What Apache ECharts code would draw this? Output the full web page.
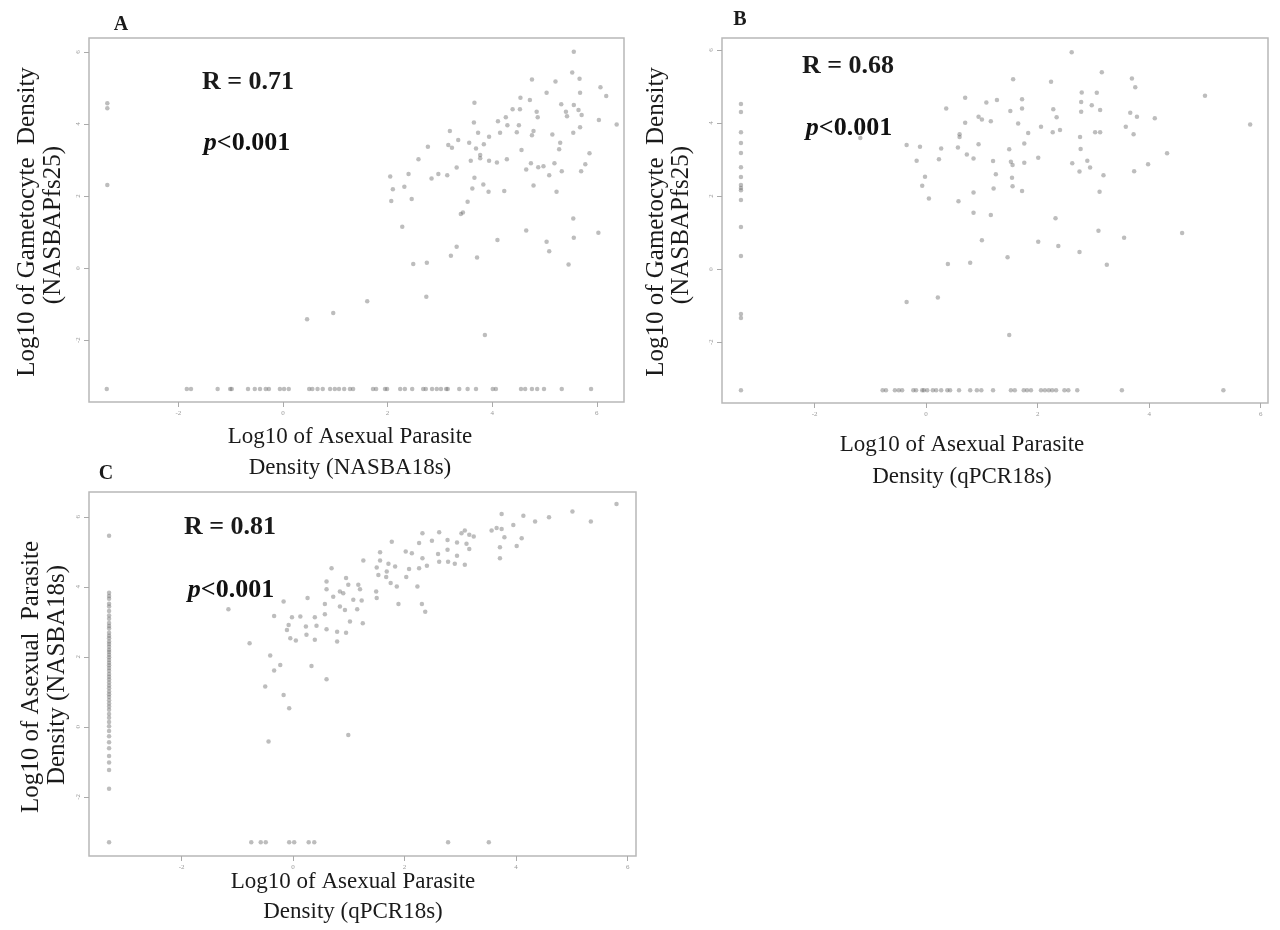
<!DOCTYPE html>
<html>
<head>
<meta charset="utf-8">
<script src="https://cdn.jsdelivr.net/npm/echarts@6/dist/echarts.min.js"></script>
<style>
html,body{margin:0;padding:0;background:#fff;}
#chart{width:1280px;height:930px;}
</style>
</head>
<body>
<div id="chart"></div>
<script>
// ---------- DATA ----------
const tickValues = [-2, 0, 2, 4, 6];
const tickLabels = ['-2', '0', '2', '4', '6'];

// Panel A: NASBA18s (x) vs NASBAPfs25 (y)
const aND = -3.36;
const aPoints = [[5.56,6.01],[5.53,5.43],[5.67,5.26],[4.76,5.24],[5.21,5.18],[6.07,5.02],[5.04,4.87],[5.68,4.87],[6.18,4.78],[4.54,4.73],[4.72,4.67],[3.66,4.59],[5.32,4.55],[5.56,4.53],[4.39,4.41],[4.53,4.41],[4.85,4.34],[5.41,4.34],[5.43,4.22],[5.65,4.39],[5.71,4.25],[4.26,4.19],[4.87,4.19],[4.11,4.08],[6.04,4.11],[3.65,4.04],[6.38,3.99],[4.51,3.97],[4.29,3.97],[5.68,3.91],[3.19,3.81],[3.73,3.76],[4.15,3.76],[4.47,3.77],[4.79,3.81],[4.76,3.69],[5.15,3.71],[5.55,3.76],[3.94,3.65],[3.35,3.56],[3.56,3.48],[3.84,3.44],[5.30,3.48],[3.16,3.42],[2.77,3.37],[3.23,3.34],[3.69,3.32],[5.28,3.30],[4.56,3.28],[3.77,3.14],[5.86,3.19],[2.59,3.02],[3.59,2.98],[3.77,3.05],[3.94,2.98],[4.09,2.93],[4.28,3.02],[5.19,2.91],[4.74,2.91],[5.78,2.88],[4.98,2.83],[4.88,2.80],[4.65,2.74],[5.33,2.69],[3.32,2.79],[5.70,2.69],[2.40,2.61],[2.05,2.54],[2.97,2.61],[2.84,2.49],[3.14,2.58],[3.66,2.51],[5.09,2.58],[2.32,2.26],[2.10,2.19],[3.83,2.32],[3.62,2.21],[4.79,2.29],[3.93,2.12],[4.23,2.14],[5.23,2.12],[2.07,1.86],[2.46,1.92],[3.53,1.84],[3.40,1.50],[3.44,1.54],[5.55,1.38],[2.28,1.15],[4.65,1.04],[6.03,0.98],[4.10,0.78],[5.56,0.84],[5.04,0.73],[3.32,0.59],[5.09,0.47],[3.21,0.34],[3.71,0.29],[2.49,0.11],[2.75,0.15],[5.46,0.10],[2.74,-0.80],[3.86,-1.86],[0.46,-1.42],[0.96,-1.25],[1.61,-0.92]];
const aZeroColY = [4.58, 4.44, 2.31];
const aZeroRowX = [-3.37,-1.84,-1.76,-1.25,-1.01,-0.98,-0.67,-0.54,-0.44,-0.33,-0.27,-0.06,0.02,0.11,0.50,0.56,0.66,0.76,0.90,0.99,1.07,1.17,1.28,1.34,1.72,1.78,1.95,1.99,2.24,2.33,2.47,2.68,2.73,2.85,2.94,3.02,3.12,3.15,3.37,3.53,3.69,4.01,4.07,4.55,4.63,4.76,4.86,4.99,5.33,5.89];

// Panel B: qPCR18s (x) vs NASBAPfs25 (y)
const bND = -3.32;
const bPoints = [[2.61,5.94],[3.15,5.39],[1.56,5.20],[2.24,5.13],[3.69,5.22],[3.75,4.98],[5.00,4.75],[0.70,4.69],[1.08,4.56],[1.27,4.63],[1.72,4.65],[2.79,4.84],[3.06,4.83],[2.78,4.58],[2.97,4.49],[0.36,4.40],[1.51,4.33],[1.72,4.40],[2.28,4.38],[2.78,4.31],[3.12,4.36],[3.66,4.28],[3.78,4.17],[4.10,4.13],[0.94,4.17],[1.00,4.10],[2.34,4.16],[0.70,4.01],[1.16,4.05],[1.65,3.99],[2.06,3.90],[2.27,3.75],[2.40,3.81],[1.83,3.73],[3.03,3.75],[3.12,3.75],[3.58,3.90],[3.72,3.69],[2.76,3.62],[5.81,3.96],[0.60,3.69],[0.60,3.62],[-0.35,3.40],[-0.11,3.35],[0.27,3.30],[0.57,3.33],[0.94,3.42],[1.76,3.44],[1.49,3.28],[2.77,3.29],[-0.17,2.97],[0.23,3.01],[0.73,3.14],[0.85,3.03],[1.20,2.96],[1.52,2.94],[1.55,2.85],[1.76,2.91],[2.01,3.05],[2.62,2.90],[2.89,2.97],[2.94,2.78],[2.75,2.67],[3.18,2.57],[3.73,2.68],[3.98,2.87],[4.32,3.17],[-0.02,2.53],[-0.07,2.28],[1.25,2.60],[1.54,2.50],[1.21,2.21],[1.55,2.27],[1.72,2.14],[0.85,2.10],[0.05,1.93],[0.58,1.86],[3.11,2.12],[0.85,1.54],[1.16,1.48],[2.32,1.39],[3.09,1.05],[4.59,0.99],[1.00,0.79],[2.01,0.75],[2.37,0.63],[3.55,0.86],[2.75,0.47],[0.39,0.14],[0.79,0.17],[1.46,0.32],[3.24,0.12],[-0.35,-0.90],[0.21,-0.78],[1.49,-1.81],[-1.18,3.59]];
const bZeroColY = [4.52,4.30,3.75,3.45,3.18,2.79,2.52,2.30,2.22,2.16,1.89,1.15,0.36,-1.23,-1.34];
const bZeroRowX = [-3.32,-0.78,-0.72,-0.56,-0.49,-0.43,-0.23,-0.18,-0.07,-0.04,0.02,0.12,0.18,0.27,0.38,0.43,0.59,0.79,0.91,0.99,1.20,1.52,1.59,1.75,1.81,1.88,2.06,2.13,2.20,2.26,2.33,2.48,2.55,2.71,3.51,5.33];

// Panel C: qPCR18s (x) vs NASBA18s (y)
const cND = -3.30;
const cPoints = [[5.80,6.37],[3.74,6.08],[4.13,6.03],[4.34,5.87],[4.59,5.99],[5.01,6.15],[5.34,5.87],[3.95,5.77],[3.56,5.61],[3.65,5.68],[3.74,5.65],[3.79,5.42],[4.10,5.39],[4.01,5.17],[3.71,5.13],[3.71,4.82],[3.08,5.61],[3.16,5.49],[3.02,5.53],[3.24,5.44],[2.62,5.56],[2.32,5.53],[2.49,5.32],[2.77,5.34],[2.94,5.27],[3.11,5.23],[3.16,5.08],[2.77,5.06],[2.60,4.94],[2.94,4.89],[2.78,4.72],[2.62,4.72],[2.90,4.66],[3.08,4.63],[2.26,5.25],[1.77,5.29],[1.56,4.99],[2.02,5.01],[2.13,4.96],[2.32,4.82],[2.40,4.60],[2.26,4.53],[1.56,4.75],[1.71,4.66],[1.83,4.58],[2.08,4.51],[1.26,4.75],[1.50,4.55],[1.68,4.44],[1.53,4.34],[1.67,4.28],[1.75,4.11],[1.86,4.01],[2.03,4.28],[2.23,4.01],[0.69,4.53],[0.60,4.15],[0.60,3.93],[0.95,4.25],[0.99,4.06],[1.17,4.06],[1.20,3.93],[0.84,3.87],[0.72,3.72],[0.90,3.82],[1.08,3.63],[1.23,3.61],[1.49,3.87],[1.50,3.68],[0.26,3.68],[-0.17,3.58],[0.57,3.51],[0.84,3.44],[0.93,3.34],[1.15,3.36],[1.89,3.51],[2.31,3.51],[2.37,3.29],[-0.34,3.17],[-0.02,3.13],[0.13,3.15],[0.39,3.13],[0.57,3.22],[1.02,3.01],[1.25,2.96],[-0.08,2.91],[-0.11,2.77],[0.23,2.87],[0.24,2.63],[0.42,2.89],[0.60,2.79],[0.79,2.72],[0.95,2.69],[-0.05,2.53],[0.05,2.47],[0.39,2.49],[0.79,2.44],[-1.16,3.36],[-0.78,2.39],[-0.41,2.04],[-0.23,1.77],[-0.34,1.61],[0.33,1.74],[-0.50,1.15],[-0.17,0.91],[0.60,1.36],[-0.07,0.53],[-0.44,-0.42],[0.99,-0.23]];
const cZeroColY = [5.46,3.83,3.74,3.66,3.52,3.44,3.31,3.18,3.09,2.97,2.88,2.81,2.69,2.60,2.53,2.44,2.37,2.29,2.20,2.14,2.06,1.99,1.91,1.83,1.76,1.68,1.60,1.51,1.43,1.35,1.27,1.18,1.10,1.01,0.93,0.85,0.76,0.67,0.58,0.49,0.37,0.26,0.14,0.02,-0.12,-0.27,-0.44,-0.61,-0.83,-1.02,-1.23,-1.77];
const cZeroRowX = [-3.30,-0.75,-0.58,-0.49,-0.07,0.02,0.28,0.38,2.78,3.51];

// ---------- BUILD ----------
function panelData(points, zeroColY, zeroRowX, nd) {
  const d = points.slice();
  zeroColY.forEach(y => d.push([nd, y]));
  zeroRowX.forEach(x => d.push([x, nd]));
  return d;
}

const SERIF = '"Liberation Serif", "DejaVu Serif", serif';
const panels = [
  {grid:{left:89, top:38, width:535, height:364}, x:[-3.71,6.52], y:[-3.72,6.39], data:panelData(aPoints,aZeroColY,aZeroRowX,aND)},
  {grid:{left:722, top:38, width:546, height:365}, x:[-3.66,6.13], y:[-3.67,6.33], data:panelData(bPoints,bZeroColY,bZeroRowX,bND)},
  {grid:{left:89, top:492, width:547, height:364}, x:[-3.66,6.15], y:[-3.69,6.71], data:panelData(cPoints,cZeroColY,cZeroRowX,cND)}
];

const grids = [], xAxes = [], yAxes = [], series = [];
panels.forEach((p, i) => {
  grids.push(Object.assign({show:true, borderColor:'#b8b8b8', borderWidth:1.5, backgroundColor:'rgba(0,0,0,0)'}, p.grid));
  xAxes.push({
    gridIndex:i, type:'value', min:p.x[0], max:p.x[1], position:'bottom',
    axisLine:{show:false, onZero:false}, splitLine:{show:false},
    axisTick:{show:true, customValues:tickValues, length:5, lineStyle:{color:'#aaa', width:1}},
    axisLabel:{show:true, customValues:tickValues, formatter:v => tickLabels[tickValues.indexOf(v)] || '', fontSize:7, color:'#999', margin:8, fontFamily:SERIF}
  });
  yAxes.push({
    gridIndex:i, type:'value', min:p.y[0], max:p.y[1], position:'left',
    axisLine:{show:false, onZero:false}, splitLine:{show:false},
    axisTick:{show:true, customValues:tickValues, length:5, lineStyle:{color:'#aaa', width:1}},
    axisLabel:{show:true, customValues:tickValues, formatter:v => tickLabels[tickValues.indexOf(v)] || '', fontSize:7, color:'#999', margin:7, rotate:90, fontFamily:SERIF}
  });
  series.push({
    type:'scatter', xAxisIndex:i, yAxisIndex:i, data:p.data,
    symbol:'circle', symbolSize:4.5,
    itemStyle:{color:'rgba(105,105,105,0.55)'},
    silent:true, animation:false
  });
});

function txt(x, y, text, opts) {
  opts = opts || {};
  return {
    type:'text', x:x, y:y, rotation:opts.rot || 0, silent:true,
    style:Object.assign({
      text:text, fill:'#1a1a1a', align:'center', verticalAlign:'middle',
      font:(opts.weight || 'normal') + ' ' + (opts.size || 23) + 'px ' + SERIF
    }, opts.rich ? {rich:opts.rich} : {})
  };
}
const richP = {
  p:{fontStyle:'italic', fontWeight:'bold', fontSize:26, fontFamily:SERIF, fill:'#111'},
  n:{fontWeight:'bold', fontSize:26, fontFamily:SERIF, fill:'#111'}
};
const R90 = Math.PI / 2;
const graphic = [
  // panel letters
  txt(121, 25, 'A', {weight:'bold', size:20}),
  txt(740, 20, 'B', {weight:'bold', size:20}),
  txt(106, 474, 'C', {weight:'bold', size:20}),
  // stats
  txt(248, 82, 'R = 0.71', {weight:'bold', size:26}),
  txt(247, 143, '{p|p}{n|<0.001}', {rich:richP}),
  txt(848, 66, 'R = 0.68', {weight:'bold', size:26}),
  txt(849, 128, '{p|p}{n|<0.001}', {rich:richP}),
  txt(230, 527, 'R = 0.81', {weight:'bold', size:26}),
  txt(231, 590, '{p|p}{n|<0.001}', {rich:richP}),
  // x titles
  txt(350, 437, 'Log10 of Asexual Parasite'),
  txt(350, 468, 'Density (NASBA18s)'),
  txt(962, 445, 'Log10 of Asexual Parasite'),
  txt(962, 477, 'Density (qPCR18s)'),
  txt(353, 882, 'Log10 of Asexual Parasite'),
  txt(353, 912, 'Density (qPCR18s)'),
  // y titles
  txt(27, 222, 'Log10 of Gametocyte  Density', {rot:R90, size:25}),
  txt(53, 225, '(NASBAPfs25)', {rot:R90, size:25}),
  txt(656, 222, 'Log10 of Gametocyte  Density', {rot:R90, size:25}),
  txt(681, 225, '(NASBAPfs25)', {rot:R90, size:25}),
  txt(31, 677, 'Log10 of Asexual  Parasite', {rot:R90, size:25}),
  txt(57, 675, 'Density (NASBA18s)', {rot:R90, size:25})
];

const chart = echarts.init(document.getElementById('chart'), null, {renderer:'canvas'});
chart.setOption({
  backgroundColor:'#ffffff',
  animation:false,
  grid:grids, xAxis:xAxes, yAxis:yAxes, series:series,
  graphic:graphic
});
</script>
</body>
</html>
